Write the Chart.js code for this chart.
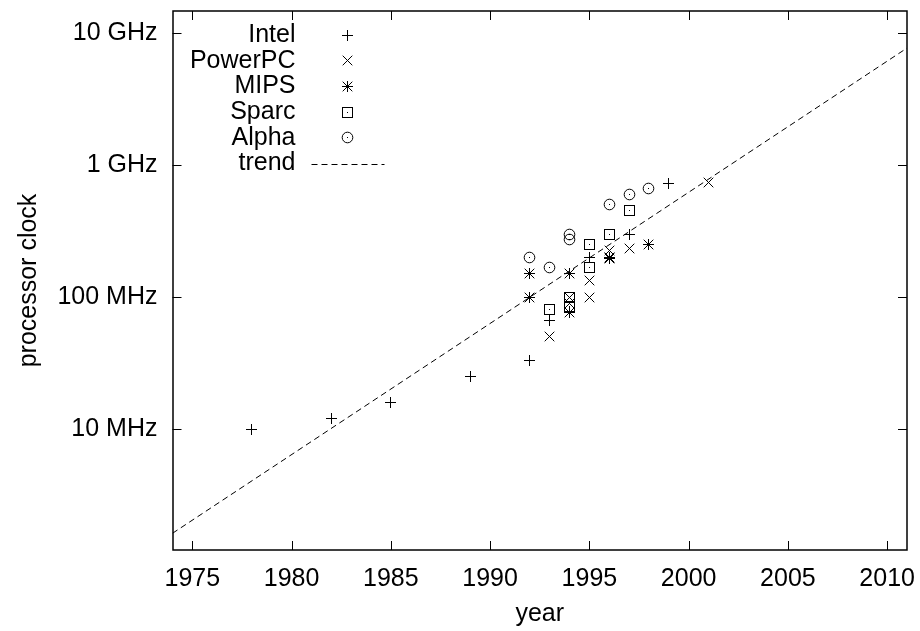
<!DOCTYPE html>
<html><head><meta charset="utf-8">
<script src="https://cdn.jsdelivr.net/npm/chart.js@4.4.0/dist/chart.umd.min.js"></script>
<style>html,body{margin:0;padding:0;background:#fff}#wrap{width:920px;height:631px}</style>
</head><body><div id="wrap"><canvas id="c" width="920" height="631"></canvas></div>
<script>
// ---- data (years, clock in MHz) ----
const xTickYears = [1975, 1980, 1985, 1990, 1995, 2000, 2005, 2010];
const yTickMHz = [10, 100, 1000, 10000];
const yTickLabels = ['10 MHz', '100 MHz', '1 GHz', '10 GHz'];
const xRange = [1974, 2011];
const yRange = [1.21, 14760];

const intelYears = [1978, 1982, 1985, 1989, 1992, 1993, 1995, 1997, 1999];
const intelMHz   = [10,   12,   16,   25,   33,   66,   200,  300,  733];

const powerpcYears = [1993, 1994, 1994, 1995, 1995, 1996, 1996, 1997, 2001];
const powerpcMHz   = [50,   100,  90,   100,  133,  225,  200,  233,  740];

const mipsYears = [1992, 1992, 1994, 1994, 1996, 1996, 1998];
const mipsMHz   = [100,  150,  150,  76,   200,  195,  250];

const sparcYears = [1993, 1994, 1994, 1995, 1995, 1996, 1997];
const sparcMHz   = [80,   100,  85,   167,  250,  300,  450];

const alphaYears = [1992, 1993, 1994, 1994, 1996, 1997, 1998];
const alphaMHz   = [200,  167,  300,  275,  500,  600,  667];

const trendYears = [1974, 2011];
const trendMHz   = [1.62, 7730];

const seriesNames = ['Intel', 'PowerPC', 'MIPS', 'Sparc', 'Alpha', 'trend'];

// ---- helpers ----
const FONT = '"Liberation Sans", Arial, Helvetica, sans-serif';
const FSIZE = 25;
function pts(xs, ys) { return xs.map((x, i) => ({x: x, y: ys[i]})); }

function makeSymbol(kind) {
  const S = 13, m = 6.5;
  const c = document.createElement('canvas');
  c.width = S; c.height = S;
  const g = c.getContext('2d');
  g.strokeStyle = '#000'; g.fillStyle = '#000'; g.lineWidth = 1;
  g.beginPath();
  if (kind === 'plus' || kind === 'star') {
    g.moveTo(m - 5.5, m); g.lineTo(m + 5.5, m);
    g.moveTo(m, m - 5.5); g.lineTo(m, m + 5.5);
  }
  if (kind === 'cross' || kind === 'star') {
    g.moveTo(m - 4.8, m - 4.8); g.lineTo(m + 4.8, m + 4.8);
    g.moveTo(m - 4.8, m + 4.8); g.lineTo(m + 4.8, m - 4.8);
  }
  g.stroke();
  if (kind === 'box') {
    g.strokeRect(1.5, 1.5, 10, 10);
    g.fillRect(6, 6, 1, 1);
  }
  if (kind === 'circle') {
    g.beginPath(); g.arc(m, m, 5.3, 0, Math.PI * 2); g.stroke();
    g.fillRect(6, 6, 1, 1);
  }
  return c;
}
const symbols = [makeSymbol('plus'), makeSymbol('cross'), makeSymbol('star'), makeSymbol('box'), makeSymbol('circle')];

const pointSets = [
  pts(intelYears, intelMHz),
  pts(powerpcYears, powerpcMHz),
  pts(mipsYears, mipsMHz),
  pts(sparcYears, sparcMHz),
  pts(alphaYears, alphaMHz)
];

const datasets = pointSets.map((d, i) => ({
  type: 'scatter',
  label: seriesNames[i],
  data: d,
  pointStyle: symbols[i],
  pointRadius: 6,
  pointHoverRadius: 6,
  borderColor: '#000',
  backgroundColor: '#000'
}));
datasets.push({
  type: 'line',
  label: 'trend',
  data: pts(trendYears, trendMHz),
  borderColor: '#000',
  borderWidth: 1,
  borderDash: [6, 4],
  pointRadius: 0,
  pointHoverRadius: 0,
  fill: false,
  tension: 0
});

const TICK = 9;
const framePlugin = {
  id: 'frame',
  beforeDraw(chart) {
    const ctx = chart.ctx;
    ctx.save(); ctx.fillStyle = '#fff'; ctx.fillRect(0, 0, chart.width, chart.height); ctx.restore();
  },
  beforeDatasetsDraw(chart) {
    // snap symbol centres to the pixel grid so the 1px glyphs stay crisp
    chart.data.datasets.forEach((ds, i) => {
      if (ds.type !== 'scatter') return;
      chart.getDatasetMeta(i).data.forEach(el => {
        el.x = Math.round(el.x - 0.5) + 0.5;
        el.y = Math.round(el.y - 0.5) + 0.5;
      });
    });
  },
  afterDraw(chart) {
    const ctx = chart.ctx, a = chart.chartArea;
    const xs = chart.scales.x, ys = chart.scales.y;
    ctx.save();
    ctx.strokeStyle = '#000';
    ctx.lineWidth = 1;
    ctx.beginPath();
    xTickYears.forEach(v => {
      const px = Math.round(xs.getPixelForValue(v)) + 0.5;
      ctx.moveTo(px, a.bottom); ctx.lineTo(px, a.bottom - TICK);
      ctx.moveTo(px, a.top); ctx.lineTo(px, a.top + TICK);
    });
    yTickMHz.forEach(v => {
      const py = Math.round(ys.getPixelForValue(v)) + 0.5;
      ctx.moveTo(a.left, py); ctx.lineTo(a.left + TICK, py);
      ctx.moveTo(a.right, py); ctx.lineTo(a.right - TICK, py);
    });
    ctx.stroke();
    ctx.lineWidth = 1.5;
    ctx.strokeRect(Math.round(a.left), Math.round(a.top), Math.round(a.right) - Math.round(a.left), Math.round(a.bottom) - Math.round(a.top));

    // legend (inside, top-left, gnuplot style: right-aligned text then symbol)
    ctx.font = FSIZE + 'px ' + FONT;
    ctx.fillStyle = '#000';
    ctx.textAlign = 'right';
    ctx.textBaseline = 'middle';
    const textX = a.left + 123, symX = a.left + 175;
    seriesNames.forEach((name, i) => {
      const y = a.top + 24 + 25.7 * i;
      ctx.fillText(name, textX, y);
      if (i < symbols.length) {
        const s = symbols[i];
        ctx.drawImage(s, Math.round(symX - s.width / 2), Math.round(y - s.height / 2));
      } else {
        ctx.lineWidth = 1;
        ctx.setLineDash([6, 4]);
        ctx.beginPath();
        ctx.moveTo(a.left + 139, Math.round(y) + 0.5);
        ctx.lineTo(a.left + 212, Math.round(y) + 0.5);
        ctx.stroke();
        ctx.setLineDash([]);
      }
    });
    ctx.restore();
  }
};

function zeroPad(s) { s.paddingTop = 0; s.paddingBottom = 0; s.paddingLeft = 0; s.paddingRight = 0; }

new Chart(document.getElementById('c'), {
  data: { datasets: datasets },
  options: {
    responsive: false,
    animation: false,
    devicePixelRatio: 1,
    events: [],
    layout: { padding: { left: 0, top: 11, right: 13, bottom: 0 } },
    plugins: { legend: { display: false }, tooltip: { enabled: false } },
    scales: {
      x: {
        type: 'linear',
        position: 'bottom',
        bounds: 'data',
        min: xRange[0], max: xRange[1],
        afterBuildTicks: s => { s.ticks = xTickYears.map(v => ({value: v})); s.min = xRange[0]; s.max = xRange[1]; },
        afterFit: s => { s.height = 81; zeroPad(s); },
        grid: { display: false, drawTicks: false },
        border: { display: false },
        ticks: { color: '#000', font: { family: FONT, size: FSIZE }, padding: 14, maxRotation: 0, autoSkip: false,
                 callback: v => String(v) },
        title: { display: true, text: 'year', color: '#000', font: { family: FONT, size: FSIZE }, padding: { top: 0, bottom: 2 } }
      },
      y: {
        type: 'logarithmic',
        position: 'left',
        bounds: 'data',
        min: yRange[0], max: yRange[1],
        afterBuildTicks: s => { s.ticks = yTickMHz.map(v => ({value: v})); s.min = yRange[0]; s.max = yRange[1]; },
        afterFit: s => { s.width = 172.5; zeroPad(s); },
        grid: { display: false, drawTicks: false },
        border: { display: false },
        ticks: { color: '#000', font: { family: FONT, size: FSIZE }, padding: 15, autoSkip: false,
                 callback: v => { const i = yTickMHz.indexOf(v); return i >= 0 ? yTickLabels[i] : ''; } },
        title: { display: true, text: 'processor clock', color: '#000', font: { family: FONT, size: FSIZE }, padding: { top: 14, bottom: 0 } }
      }
    }
  },
  plugins: [framePlugin]
});
</script>
</body></html>
